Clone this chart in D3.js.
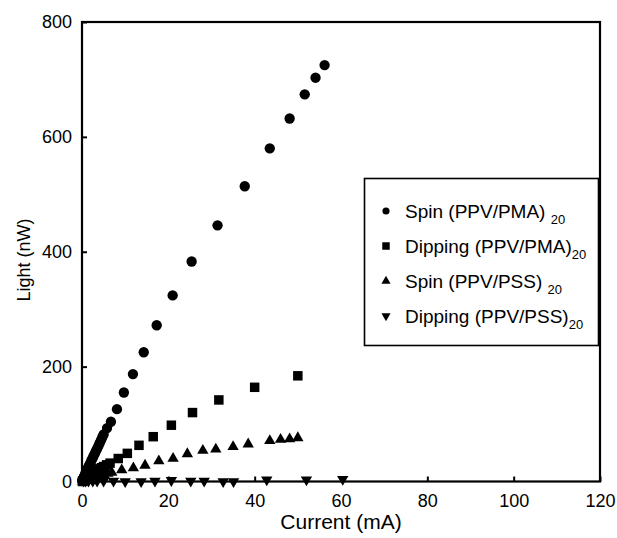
<!DOCTYPE html>
<html><head><meta charset="utf-8">
<script src="https://cdn.jsdelivr.net/npm/d3@7"></script>
<style>body{margin:0;background:#fff}svg{display:block}text{font-family:"Liberation Sans",Arial,sans-serif;fill:#000}</style>
</head><body><svg id="c" width="617" height="538"></svg>
<script>
// Data
const spinPMA_x = [0.05,0.1,0.2,0.3,0.4,0.5,0.7,0.8,1.0,1.1,1.3,1.4,1.6,1.8,2.0,2.2,2.5,2.7,3.0,3.2,3.5,3.8,4.1,4.4,4.7,5.0,5.8,6.7,8.1,9.7,11.8,14.3,17.3,21.0,25.4,31.4,37.7,43.5,48.1,51.6,54.1,56.2];
const spinPMA_y = [1,2,3,5,7,9,12,14,17,19,22,24,27,30,33,37,41,45,49,53,57,62,67,72,77,82,93,104,126,155,187,225,272,324,383,446,514,580,632,674,703,725];
const dipPMA_x = [0.1,0.2,0.4,0.5,0.7,0.9,1.1,1.3,1.6,1.8,2.1,2.5,2.8,3.2,3.6,4.0,4.5,5.0,5.7,6.5,8.4,10.5,13.2,16.5,20.7,25.6,31.7,40.0,50.0];
const dipPMA_y = [0,1,2,3,4,5,6,8,9,11,12,14,16,18,20,22,24,26,29,32,40,49,63,78,98,120,142,164,184];
const spinPSS_x = [0.2,0.5,0.9,1.3,1.6,2.0,2.3,2.9,3.5,4.3,5.1,6.0,6.9,9.2,11.9,14.6,17.8,21.1,24.4,28.0,31.0,35.0,38.5,43.5,46.0,48.1,50.0];
const spinPSS_y = [0,1,2,3,4,5,6,7,8.7,10,12,14,15.6,20,23.5,28,35.7,40,48,54,56,60.5,65,71,73,74,76];
const dipPSS_x = [0.3,0.8,1.5,2.5,3.5,5.0,7.3,10.0,13.7,16.9,20.7,25.2,28.3,32.7,35.1,42.8,52.0,60.4];
const dipPSS_y = [1,1,1,1,1,1,1,0,0,1,2,1,1,0,0,3,3,4];
const xTicks = [0,20,40,60,80,100,120];
const yTicks = [0,200,400,600,800];
const seriesNames = ["Spin (PPV/PMA) ","Dipping (PPV/PMA)","Spin (PPV/PSS) ","Dipping (PPV/PSS)"];
const subscript = "20";
const xTitle = "Current (mA)";
const yTitle = "Light (nW)";

const svg = d3.select("#c");
const L = 82, R = 600, T = 22, B = 481.5;
const x = d3.scaleLinear().domain([0,120]).range([L,R]);
const y = d3.scaleLinear().domain([0,800]).range([B,T]);

const series = [
  {xs: spinPMA_x, ys: spinPMA_y, type: d3.symbolCircle, size: 84, rot: 0, lsize: 40},
  {xs: dipPMA_x, ys: dipPMA_y, type: d3.symbolSquare, size: 90, rot: 0, lsize: 56},
  {xs: spinPSS_x, ys: spinPSS_y, type: d3.symbolTriangle, size: 56, rot: 0, lsize: 36},
  {xs: dipPSS_x, ys: dipPSS_y, type: d3.symbolTriangle, size: 56, rot: 180, lsize: 36}
];

// axes (ticks inward)
const xa = svg.append("g").attr("transform",`translate(0,${B})`)
  .call(d3.axisBottom(x).tickValues(xTicks).tickSizeInner(-5).tickSizeOuter(0).tickPadding(13));
const ya = svg.append("g").attr("transform",`translate(${L},0)`)
  .call(d3.axisLeft(y).tickValues(yTicks).tickSizeInner(-5).tickSizeOuter(0).tickPadding(10));
[xa,ya].forEach(g=>{
  g.select(".domain").remove();
  g.selectAll("line").attr("stroke","#000").attr("stroke-width",2);
  g.selectAll("text").style("font-size","18px").attr("fill","#000");
});
xa.selectAll("text").attr("dy","0.71em");

// frame
svg.append("rect").attr("x",L).attr("y",T).attr("width",R-L).attr("height",B-T)
  .attr("fill","none").attr("stroke","#000").attr("stroke-width",2.2);

// markers
series.forEach(s=>{
  const sym = d3.symbol().type(s.type).size(s.size);
  svg.append("g").selectAll("path").data(s.xs.map((v,i)=>[v,s.ys[i]])).join("path")
    .attr("d",sym)
    .attr("transform",d=>`translate(${x(d[0])},${y(d[1])}) rotate(${s.rot})`)
    .attr("fill","#000");
});

// titles
svg.append("text").attr("x",(L+R)/2).attr("y",529).attr("text-anchor","middle")
  .style("font-size","21px").text(xTitle);
svg.append("text").attr("transform",`translate(30,260) rotate(-90)`).attr("text-anchor","middle")
  .style("font-size","18px").text(yTitle);

// legend
const lg = svg.append("g");
lg.append("rect").attr("x",364.5).attr("y",178.5).attr("width",234).attr("height",167)
  .attr("fill","#fff").attr("stroke","#000").attr("stroke-width",1.6);
const rowY = [211, 246, 281, 316];
series.forEach((s,i)=>{
  lg.append("path").attr("d",d3.symbol().type(s.type).size(s.lsize)())
    .attr("transform",`translate(386,${rowY[i]}) rotate(${s.rot})`).attr("fill","#000");
  const t = lg.append("text").attr("x",405).attr("y",rowY[i]+7).style("font-size","19px");
  t.append("tspan").text(seriesNames[i]).style("white-space","pre");
  t.append("tspan").attr("dy",6).style("font-size","13px").text(subscript);
});
</script></body></html>
